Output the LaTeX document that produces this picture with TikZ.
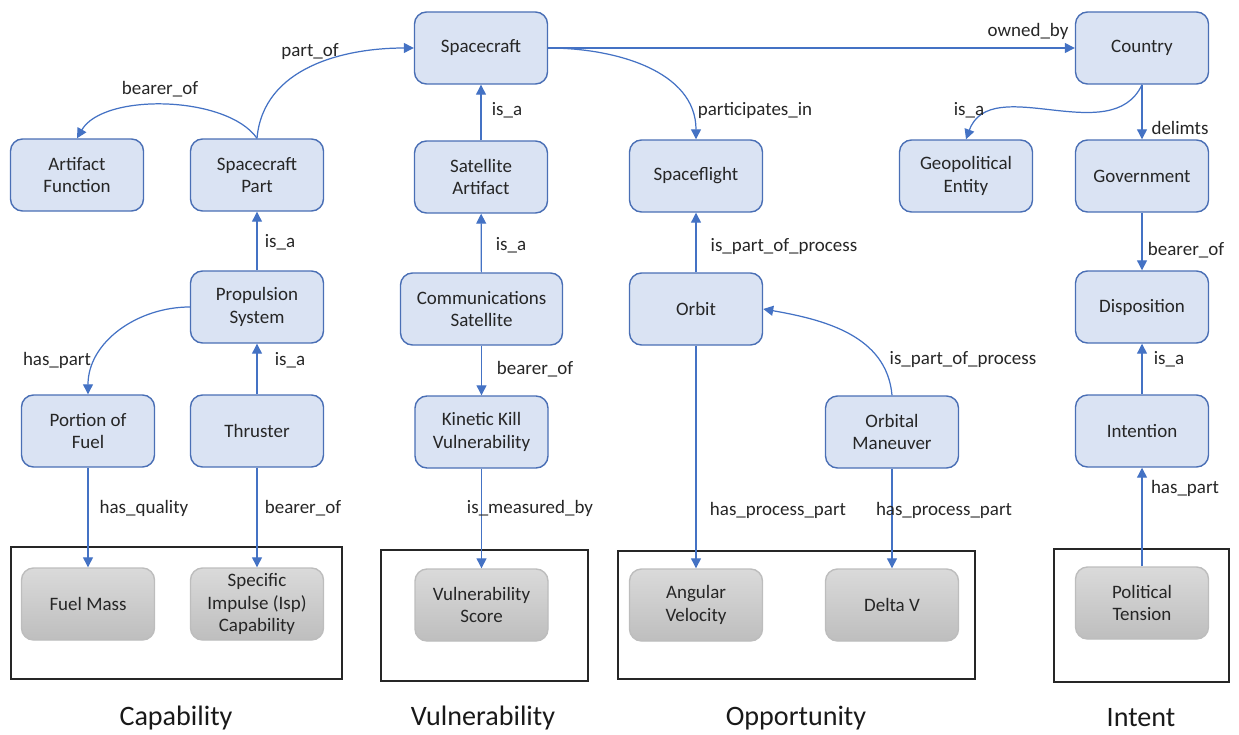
\documentclass[tikz,border=0pt]{standalone}
\usepackage{fontspec}
\setmainfont{Carlito}
\usetikzlibrary{arrows.meta}

\definecolor{linkblue}{HTML}{4472C4}
\definecolor{boxfill}{HTML}{DAE3F3}
\definecolor{boxline}{HTML}{4A6FB5}
\definecolor{greytop}{HTML}{DADADA}
\definecolor{greybot}{HTML}{BEBEBE}
\definecolor{greyline}{HTML}{BDBDBD}
\definecolor{inktext}{HTML}{262626}

\tikzset{
  classbox/.style={draw=boxline, fill=boxfill, line width=0.8pt, rounded corners=0.24cm,
    minimum width=2.66cm, minimum height=1.44cm, inner sep=0pt, align=center,
    text=inktext, font=\fontsize{10.8}{12.6}\selectfont},
  valuebox/.style={classbox, draw=greyline, top color=greytop, bottom color=greybot},
  rel/.style={draw=linkblue, line width=0.7pt, -{Triangle[length=2mm,width=2mm]}},
  rellabel/.style={text=inktext, inner sep=0pt, font=\fontsize{10.8}{12.6}\selectfont},
  groupframe/.style={draw=black!85, line width=0.6pt},
  grouptitle/.style={text=black!90, font=\fontsize{16}{19}\selectfont}
}

\begin{document}
\begin{tikzpicture}
\useasboundingbox (0,0) rectangle (24.78,14.68);

% group frames
\draw[groupframe] (0.22,1.10) rectangle (6.84,3.74);
\draw[groupframe] (7.62,1.06) rectangle (11.76,3.68);
\draw[groupframe] (12.36,1.10) rectangle (19.50,3.66);
\draw[groupframe] (21.08,1.04) rectangle (24.58,3.70);

\node[grouptitle] (capab) at (3.52,0.32) {Capability};
\node[grouptitle] (vulner) at (9.66,0.32) {Vulnerability};
\node[grouptitle] (opport) at (15.92,0.32) {Opportunity};
\node[grouptitle] (intent) at (22.82,0.32) {Intent};

% classes
\node[classbox] (spacecraft) at (9.62,13.72) {Spacecraft};
\node[classbox] (artfunc) at (1.54,11.18) {Artifact\\Function};
\node[classbox] (scpart) at (5.14,11.18) {Spacecraft\\Part};
\node[classbox] (satart) at (9.62,11.14) {Satellite\\Artifact};
\node[classbox] (spaceflight) at (13.92,11.16) {Spaceflight};
\node[classbox] (country) at (22.84,13.72) {Country};
\node[classbox] (geoent) at (19.32,11.16) {Geopolitical\\Entity};
\node[classbox] (govt) at (22.84,11.16) {Government};
\node[classbox] (propsys) at (5.14,8.54) {Propulsion\\System};
\node[classbox, minimum width=3.24cm] (commsat) at (9.63,8.50) {Communications\\Satellite};
\node[classbox] (orbit) at (13.92,8.50) {Orbit};
\node[classbox] (disposition) at (22.84,8.54) {Disposition};
\node[classbox] (fuel) at (1.76,6.06) {Portion of\\Fuel};
\node[classbox] (thruster) at (5.14,6.06) {Thruster};
\node[classbox] (kkv) at (9.63,6.04) {Kinetic Kill\\Vulnerability};
\node[classbox] (orbman) at (17.84,6.04) {Orbital\\Maneuver};
\node[classbox] (intention) at (22.84,6.06) {Intention};

% measured values
\node[valuebox] (fuelmass) at (1.76,2.60) {Fuel Mass};
\node[valuebox] (isp) at (5.14,2.60) {Specific\\Impulse (Isp)\\Capability};
\node[valuebox] (vulnscore) at (9.63,2.58) {Vulnerability\\Score};
\node[valuebox] (angvel) at (13.92,2.58) {Angular\\Velocity};
\node[valuebox] (deltav) at (17.84,2.58) {Delta V};
\node[valuebox] (poltension) at (22.84,2.62) {Political\\Tension};

% relations
\draw[rel] (scpart.north) to[out=85,in=180] (spacecraft.west);
\draw[rel] (scpart.north) to[out=125,in=60,looseness=0.75] (artfunc.north);
\draw[rel] (satart) -- (spacecraft);
\draw[rel] (spacecraft.east) to[out=0,in=90] (spaceflight.north);
\draw[rel] (spacecraft.east) -- (country.west);
\draw[rel] (country.south) to[out=-115,in=70] (geoent.north);
\draw[rel] (country) -- (govt);
\draw[rel] (govt) -- (disposition);
\draw[rel] (intention) -- (disposition);
\draw[rel] (poltension) -- (intention);
\draw[rel] (orbit) -- (spaceflight);
\draw[rel] (orbman.north) to[out=95,in=-10] (orbit.east);
\draw[rel] (orbit) -- (angvel);
\draw[rel] (orbman) -- (deltav);
\draw[rel] (commsat) -- (satart);
\draw[rel] (commsat) -- (kkv);
\draw[rel] (kkv) -- (vulnscore);
\draw[rel] (propsys) -- (scpart);
\draw[rel] (thruster) -- (propsys);
\draw[rel] (propsys.west) to[out=180,in=90] (fuel.north);
\draw[rel] (fuel) -- (fuelmass);
\draw[rel] (thruster) -- (isp);

% relation labels
\node[rellabel] (l1) at (6.20,13.64) {part\_of};
\node[rellabel] (l2) at (3.20,12.90) {bearer\_of};
\node[rellabel] (l3) at (10.14,12.48) {is\_a};
\node[rellabel] (l4) at (15.10,12.48) {participates\_in};
\node[rellabel] (l5) at (20.56,14.06) {owned\_by};
\node[rellabel] (l6) at (19.38,12.48) {is\_a};
\node[rellabel] (l7) at (23.60,12.12) {delimts};
\node[rellabel] (l8) at (5.60,9.84) {is\_a};
\node[rellabel] (l9) at (10.22,9.78) {is\_a};
\node[rellabel] (l10) at (15.68,9.76) {is\_part\_of\_process};
\node[rellabel] (l11) at (23.72,9.68) {bearer\_of};
\node[rellabel] (l12) at (1.14,7.48) {has\_part};
\node[rellabel] (l13) at (5.80,7.48) {is\_a};
\node[rellabel] (l14) at (10.70,7.30) {bearer\_of};
\node[rellabel] (l15) at (19.26,7.50) {is\_part\_of\_process};
\node[rellabel] (l16) at (23.38,7.50) {is\_a};
\node[rellabel] (l17) at (23.70,4.92) {has\_part};
\node[rellabel] (l18) at (2.88,4.52) {has\_quality};
\node[rellabel] (l19) at (6.06,4.52) {bearer\_of};
\node[rellabel] (l20) at (10.60,4.52) {is\_measured\_by};
\node[rellabel] (l21) at (15.56,4.48) {has\_process\_part};
\node[rellabel] (l22) at (18.88,4.48) {has\_process\_part};

\end{tikzpicture}
\end{document}
